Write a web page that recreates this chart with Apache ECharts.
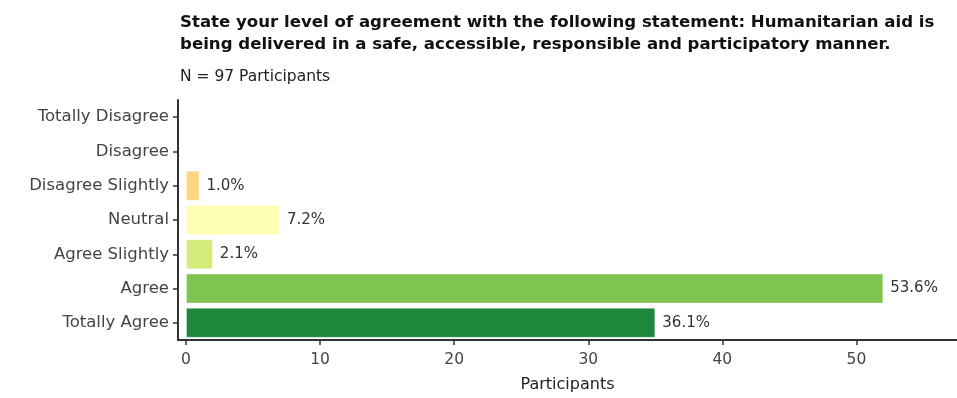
<!DOCTYPE html>
<html>
<head>
<meta charset="utf-8">
<script src="https://cdn.jsdelivr.net/npm/echarts@6/dist/echarts.min.js"></script>
<style>
html,body{margin:0;padding:0;background:#fff;}
#chart{width:957px;height:398px;}
</style>
</head>
<body>
<div id="chart"></div>
<script>
const categories = ["Totally Disagree", "Disagree", "Disagree Slightly", "Neutral", "Agree Slightly", "Agree", "Totally Agree"];
const participants = [0, 0, 1, 7, 2, 52, 35];
const totalN = 97;
const xTicks = [0, 10, 20, 30, 40, 50];
const titleLines = "State your level of agreement with the following statement: Humanitarian aid is\nbeing delivered in a safe, accessible, responsible and participatory manner.";
const subtitle = "N = 97 Participants";
const xName = "Participants";

const barColors = ["#d7301f", "#fc8d59", "#fcd57c", "#ffffb3", "#d3ec7b", "#7ec550", "#1e873c"];
const FONT = "DejaVu Sans";

const chart = echarts.init(document.getElementById('chart'), null, {renderer: 'canvas'});
chart.setOption({
  animation: false,
  backgroundColor: '#ffffff',
  textStyle: {fontFamily: FONT},
  title: [
    {text: titleLines, left: 180, top: 12, padding: 0,
     textStyle: {fontFamily: FONT, fontWeight: 'bold', fontSize: 16.6, lineHeight: 22, color: '#111'}},
    {text: subtitle, left: 180, top: 69, padding: 0,
     textStyle: {fontFamily: FONT, fontWeight: 'normal', fontSize: 15.5, color: '#222'}}
  ],
  grid: {left: 178, right: 0, top: 100, bottom: 56.5, containLabel: false},
  xAxis: {
    type: 'value', min: -0.6, max: 57.5,
    name: xName, nameLocation: 'middle', nameGap: 37,
    nameTextStyle: {fontFamily: FONT, fontSize: 16, color: '#222'},
    axisLine: {show: true, onZero: false, lineStyle: {color: '#333', width: 2}},
    axisTick: {show: true, customValues: xTicks, length: 5, lineStyle: {color: '#333', width: 1.5}},
    axisLabel: {customValues: xTicks, fontFamily: FONT, fontSize: 15.5, color: '#444', margin: 12},
    splitLine: {show: false}
  },
  yAxis: {
    type: 'category', data: categories, inverse: true,
    axisLine: {show: true, onZero: false, lineStyle: {color: '#333', width: 2}},
    axisTick: {show: true, alignWithLabel: true, length: 5, lineStyle: {color: '#333', width: 1.5}},
    axisLabel: {fontFamily: FONT, fontSize: 16.5, color: '#444', margin: 9},
    splitLine: {show: false}
  },
  series: [{
    type: 'bar',
    barWidth: 30,
    data: participants.map((v, i) => ({value: v, itemStyle: {color: barColors[i]}})),
    itemStyle: {borderColor: 'rgba(255,255,255,0.35)', borderWidth: 1},
    label: {
      show: true, position: 'right', distance: 7,
      fontFamily: FONT, fontSize: 15, color: '#333',
      formatter: p => p.value > 0 ? (p.value / totalN * 100).toFixed(1) + '%' : ''
    }
  }]
});
</script>
</body>
</html>
